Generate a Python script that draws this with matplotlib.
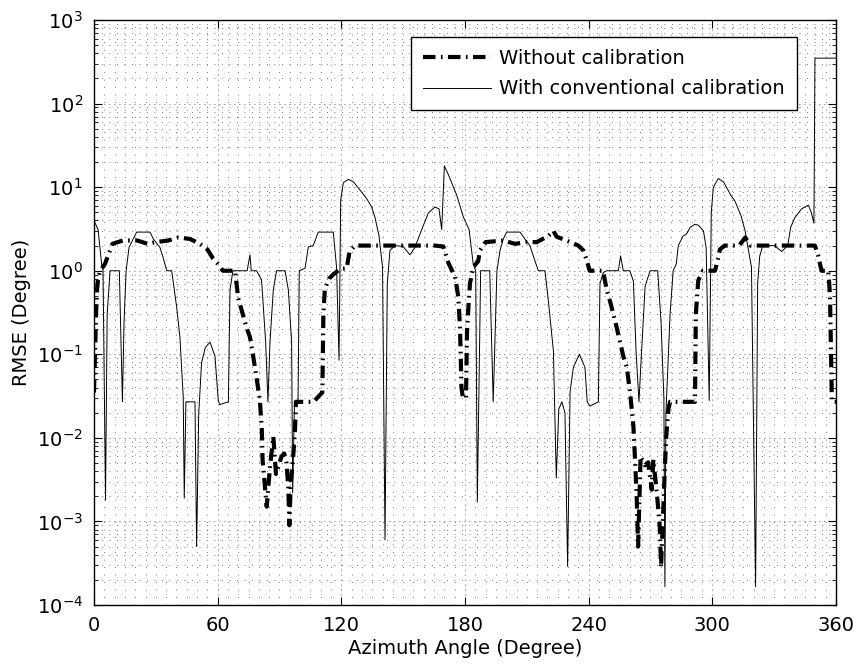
import matplotlib
matplotlib.use("Agg")
import matplotlib.pyplot as plt
from matplotlib.ticker import FixedLocator, MultipleLocator, NullFormatter

# azimuth (deg) / RMSE (deg)
angle_nocal = [0, 0.5, 1, 1.5, 2, 3, 5.3, 7.8, 9, 14, 21, 26, 30, 36, 41, 46.6, 51.4, 55,
               57.8, 60.2, 62.6, 68.4, 70, 74, 75.7, 77.3, 79, 80.5, 81.4, 81.8, 83.8, 85.4,
               87, 88.3, 90, 91, 92.3, 93.4, 94.3, 94.8, 95.5, 96.3, 97.5, 98, 106.5, 108.8,
               110.8, 111.3, 112, 114, 116, 119.5, 122.6, 124, 126.6, 165.4, 169.5, 172,
               175.2, 176.8, 177.6, 178.3, 179, 180.5, 181, 182.4, 184, 186.4, 187.3, 190,
               198.5, 204.3, 210, 214.8, 220.4, 222.9, 224.5, 229.3, 235, 237.4, 239, 240.5,
               247, 248.7, 250.4, 253.6, 256.8, 258.5, 260.1, 261.7, 262.5, 263.3, 264,
               265.2, 267.3, 268.9, 270.6, 271.4, 273.4, 274.6, 275.1, 276, 277, 277.6,
               278.7, 279.5, 291.6, 292, 293.2, 295.5, 301.3, 302.5, 303.7, 306, 313, 316,
               318.5, 349.8, 351.4, 353, 356.3, 357.1, 357.6, 358, 360]
rmse_nocal = [0.035, 0.1, 0.3, 0.6, 0.8, 1.0, 1.2, 1.75, 2.1, 2.3, 2.3, 2.1, 2.2, 2.3, 2.5,
              2.4, 2.1, 1.8, 1.4, 1.2, 1.0, 1.0, 0.47, 0.21, 0.16, 0.093, 0.05, 0.028, 0.013,
              0.0055, 0.0015, 0.0045, 0.0104, 0.0037, 0.005, 0.006, 0.0065, 0.005, 0.0025,
              0.0009, 0.003, 0.0045, 0.012, 0.027, 0.027, 0.031, 0.035, 0.3, 0.6, 0.8, 0.9,
              1.05, 1.07, 1.7, 2.0, 2.0, 1.95, 1.23, 0.85, 0.48, 0.2, 0.04, 0.03, 0.03, 0.2,
              0.7, 1.1, 1.3, 1.75, 2.2, 2.3, 2.1, 2.2, 2.2, 2.6, 3.0, 2.55, 2.3, 2.0, 1.75,
              1.35, 1.0, 1.0, 0.6, 0.43, 0.21, 0.095, 0.07, 0.035, 0.014, 0.0055, 0.002,
              0.0005, 0.006, 0.0047, 0.0051, 0.0024, 0.0055, 0.0018, 0.0008, 0.00028, 0.001,
              0.0045, 0.01, 0.022, 0.027, 0.027, 0.3, 0.77, 1.0, 1.0, 1.3, 1.8, 2.0, 2.0,
              2.5, 2.0, 2.0, 1.5, 1.0, 1.0, 0.5, 0.1, 0.027, 0.027]

angle_conv = [0, 2, 3.7, 4.4, 5.6, 6.4, 7.8, 12.3, 13.8, 14.6, 15.6, 17, 20.7, 27.2, 28.8,
              32, 33.5, 35.3, 37.7, 40.1, 41.7, 43.3, 43.8, 44.6, 49, 49.8, 50.8, 52.2, 54,
              56.3, 58.7, 60.3, 61, 65.2, 66, 67.4, 74.3, 75.7, 76.3, 78.9, 81.3, 83.3, 84.4,
              85.4, 87, 88.6, 92.7, 94.3, 95.9, 96.4, 97.3, 99, 99.6, 102.4, 104, 106.4,
              108.8, 116.1, 117.7, 118.9, 119.7, 121, 123.4, 125.8, 129, 132.3, 134.7,
              136.3, 138.3, 140, 141.2, 142.3, 143.6, 146, 150, 153.3, 155.7, 159, 162.2,
              165.4, 167.4, 168.7, 170, 172, 176, 179.2, 182, 184, 185.2, 186, 187.6, 192,
              193.7, 195.5, 197, 198.6, 200.2, 206.7, 209.1, 211.5, 214, 215.6, 218.8,
              220.4, 222.9, 224.3, 225.5, 227, 228.5, 229.8, 231, 232.6, 235.5, 238.2,
              239.3, 240.6, 244.7, 245.5, 247.1, 248.7, 254.4, 255.5, 256.8, 260, 261.7,
              263, 264.4, 265.7, 267.4, 269.8, 273.5, 275.1, 276.5, 277, 277.5, 279.5, 281,
              282.5, 283.5, 285.8, 287.5, 289.2, 291.6, 293.3, 295.7, 297, 298.5, 299.5,
              300.5, 302.9, 305.5, 309, 311, 314, 315.9, 317.5, 319, 321, 322, 323, 324.5,
              330, 333.7, 336.6, 338, 340, 343.3, 346.6, 348, 349.3, 349.8, 360]
rmse_conv = [4.0, 3.1, 1.2, 1.0, 0.0018, 0.3, 1.0, 1.0, 0.027, 0.25, 1.0, 1.9, 2.9, 2.9, 2.4,
             1.9, 1.45, 1.0, 1.0, 0.37, 0.16, 0.031, 0.0019, 0.027, 0.027, 0.0005, 0.019,
             0.079, 0.12, 0.14, 0.095, 0.028, 0.025, 0.027, 0.59, 1.0, 1.0, 1.55, 1.0, 1.0,
             0.78, 0.14, 0.027, 0.14, 0.59, 1.0, 1.0, 0.59, 0.14, 0.0022, 0.027, 0.027, 1.0,
             1.07, 1.93, 2.0, 2.9, 2.9, 1.1, 0.085, 7.0, 11.3, 12.4, 11.6, 9.3, 7.3, 5.8,
             4.4, 2.6, 1.1, 0.0006, 0.7, 1.75, 2.0, 1.95, 1.55, 1.9, 3.1, 4.9, 5.8, 5.5,
             3.1, 18.0, 14.0, 8.0, 4.4, 3.1, 1.2, 1.0, 0.0017, 1.0, 1.0, 0.027, 1.0, 1.75,
             2.4, 2.9, 2.9, 2.4, 2.0, 1.3, 1.0, 1.0, 0.45, 0.11, 0.0033, 0.022, 0.027, 0.02,
             0.00029, 0.036, 0.07, 0.1, 0.07, 0.027, 0.024, 0.027, 0.7, 0.95, 1.0, 1.0, 1.5,
             1.0, 1.0, 0.75, 0.11, 0.027, 0.11, 0.65, 1.0, 1.0, 0.25, 0.03, 0.000165, 0.02,
             0.3, 1.0, 1.2, 2.0, 2.6, 2.75, 3.3, 3.6, 3.5, 3.0, 1.9, 0.028, 5.0, 10.0, 12.7,
             11.5, 8.0, 6.8, 4.5, 3.0, 1.8, 1.1, 0.000165, 0.7, 1.5, 2.0, 2.0, 1.7, 2.0,
             3.3, 4.3, 5.5, 6.1, 5.0, 3.7, 350, 350]

x_ticks = [0, 60, 120, 180, 240, 300, 360]
y_decades = [-4, -3, -2, -1, 0, 1, 2, 3]

plt.rcParams['font.family'] = 'DejaVu Sans'
plt.rcParams['font.size'] = 14

fig = plt.figure(figsize=(8.59, 6.68), dpi=100)
ax = fig.add_axes([0.1094, 0.0943, 0.8638, 0.8757])

ax.plot(angle_nocal, rmse_nocal, color='black', lw=3.0,
        linestyle=(0, (3, 1.3, 0.4, 1.3)), label='Without calibration')
ax.plot(angle_conv, rmse_conv, color='black', lw=0.7, label='With conventional calibration')

ax.set_yscale('log')
ax.set_xlim(0, 360)
ax.set_ylim(1e-4, 1e3)

# only ticks inside the view, so no hidden labels hang off the figure
ax.xaxis.set_major_locator(FixedLocator(x_ticks))
ax.xaxis.set_minor_locator(MultipleLocator(5))
ax.xaxis.set_minor_formatter(NullFormatter())
ax.set_yticks([10.0 ** d for d in y_decades])
ax.set_yticklabels([r'$10^{%d}$' % d for d in y_decades])
minor_y = [m * 10.0 ** d for d in y_decades[:-1] for m in range(2, 10)]
ax.yaxis.set_minor_locator(FixedLocator(minor_y))
ax.yaxis.set_minor_formatter(NullFormatter())

ax.tick_params(which='both', direction='in', top=True, right=True, colors='black')
ax.tick_params(which='major', length=6, width=0.8, pad=8)
ax.tick_params(axis='y', which='minor', length=3, width=0.6)
ax.tick_params(axis='x', which='minor', length=0)

ax.grid(True, which='major', linestyle=(0, (1, 5)), color='0.2', lw=0.6)
ax.grid(True, which='minor', linestyle=(0, (1, 8)), color='0.3', lw=0.6)
ax.set_axisbelow(True)
for s in ax.spines.values():
    s.set_linewidth(1.0)
    s.set_color('black')

ax.set_xlabel('Azimuth Angle (Degree)', labelpad=3)
ax.set_ylabel('RMSE (Degree)', labelpad=4)

leg = ax.legend(loc='upper right', bbox_to_anchor=(0.947, 0.971), fancybox=False,
                framealpha=1, edgecolor='black', handlelength=3.5, handletextpad=0.45,
                borderpad=0.6, labelspacing=0.6, borderaxespad=0)
leg.get_frame().set_linewidth(1.0)

fig.savefig('out.png', dpi=100)
